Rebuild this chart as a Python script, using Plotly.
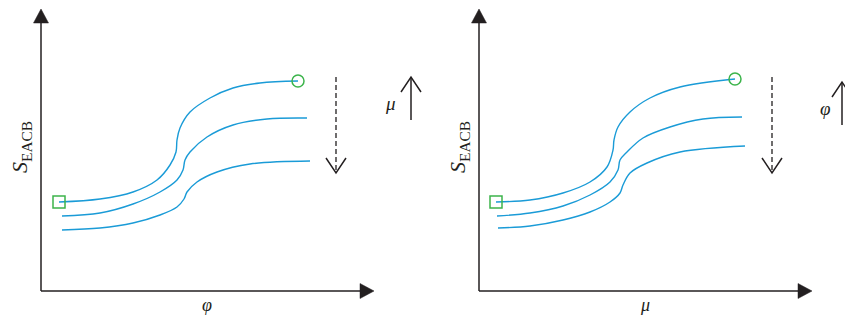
import plotly.graph_objects as go
from plotly.subplots import make_subplots

# schematic curves, units measured from each panel's axis corner
left_top_x = [18, 59, 92, 116, 129, 135, 136, 139, 149, 169, 192, 219, 257]
left_top_y = [89, 92, 99, 111, 126, 139, 151, 163, 179, 193, 203, 208, 210]
left_mid_x = [21, 59, 92, 119, 136, 142, 144, 149, 166, 192, 226, 266]
left_mid_y = [75, 78, 87, 99, 111, 121, 131, 139, 154, 166, 172, 173]
left_bot_x = [21, 59, 92, 119, 136, 143, 146, 156, 176, 209, 269]
left_bot_y = [61, 63, 68, 76, 84, 92, 99, 109, 119, 127, 130]

right_top_x = [17, 51, 84, 111, 128, 134, 135, 139, 151, 171, 201, 256]
right_top_y = [89, 91, 98, 109, 124, 141, 151, 164, 179, 193, 204, 212]
right_mid_x = [18, 51, 84, 111, 131, 139, 141, 148, 164, 191, 224, 263]
right_mid_y = [75, 78, 85, 96, 109, 121, 131, 139, 153, 164, 172, 174]
right_bot_x = [19, 51, 84, 111, 131, 141, 144, 151, 168, 201, 266]
right_bot_y = [63, 65, 71, 79, 89, 98, 106, 118, 128, 139, 145]

x_titles = ["φ", "μ"]
param_labels = ["μ", "φ"]

blue = "#1a9bd7"
green = "#3cb44b"
ink = "#231f20"

fig = make_subplots(rows=1, cols=2, horizontal_spacing=0)

panels = [
    (1, [(left_top_x, left_top_y), (left_mid_x, left_mid_y), (left_bot_x, left_bot_y)]),
    (2, [(right_top_x, right_top_y), (right_mid_x, right_mid_y), (right_bot_x, right_bot_y)]),
]

for col, curves in panels:
    for cx, cy in curves:
        fig.add_trace(go.Scatter(x=cx, y=cy, mode="lines", line=dict(color=blue, width=1.4, shape="spline", smoothing=1.0),
                                 hoverinfo="skip", showlegend=False), row=1, col=col)
    tx, ty = curves[0]
    fig.add_trace(go.Scatter(x=[tx[0]], y=[ty[0]], mode="markers",
                             marker=dict(symbol="square-open", size=12, color=green, line=dict(width=1.5)),
                             showlegend=False), row=1, col=col)
    fig.add_trace(go.Scatter(x=[tx[-1]], y=[ty[-1]], mode="markers",
                             marker=dict(symbol="circle-open", size=12, color=green, line=dict(width=1.5)),
                             showlegend=False), row=1, col=col)

shapes = []
annotations = []
for i, (xr, yr) in enumerate([("x", "y"), ("x2", "y2")]):
    # axes with filled arrow heads
    shapes.append(dict(type="line", xref=xr, yref=yr, x0=0, y0=0, x1=0, y1=270, line=dict(color=ink, width=1.5)))
    shapes.append(dict(type="line", xref=xr, yref=yr, x0=0, y0=0, x1=320, y1=0, line=dict(color=ink, width=1.5)))
    shapes.append(dict(type="path", xref=xr, yref=yr, path="M -7.5 268 L 7.5 268 L 0 282 Z",
                       fillcolor=ink, line=dict(color=ink, width=0.5)))
    shapes.append(dict(type="path", xref=xr, yref=yr, path="M 319 -7.5 L 319 7.5 L 333 0 Z",
                       fillcolor=ink, line=dict(color=ink, width=0.5)))
    # dashed downward arrow
    dx = 295 if i == 0 else 293
    shapes.append(dict(type="line", xref=xr, yref=yr, x0=dx, y0=214, x1=dx, y1=120,
                       line=dict(color=ink, width=1.3, dash="5px,3px")))
    shapes.append(dict(type="path", xref=xr, yref=yr,
                       path=f"M {dx-10} 133 L {dx} 118 L {dx+10} 133",
                       line=dict(color=ink, width=1.5)))
    # parameter increase arrow
    ux = 370 if i == 0 else 363
    top = 214 if i == 0 else 209
    shapes.append(dict(type="line", xref=xr, yref=yr, x0=ux, y0=top - 43, x1=ux, y1=top,
                       line=dict(color=ink, width=1.5)))
    shapes.append(dict(type="path", xref=xr, yref=yr,
                       path=f"M {ux-10} {top-15} L {ux} {top} L {ux+10} {top-15}",
                       line=dict(color=ink, width=1.5)))
    lx = 349 if i == 0 else 346
    annotations.append(dict(xref=xr, yref=yr, x=lx, y=top - 26, text=f"<i>{param_labels[i]}</i>",
                            showarrow=False, font=dict(family="Liberation Serif", size=19, color=ink)))
    # axis titles
    annotations.append(dict(xref=xr, yref=yr, x=166, y=-14, text=f"<i>{x_titles[i]}</i>",
                            showarrow=False, font=dict(family="Liberation Serif", size=18, color=ink)))
    annotations.append(dict(xref=xr, yref=yr, x=-20, y=144, text="<i>S</i><sub>EACB</sub>", textangle=-90,
                            showarrow=False, font=dict(family="Liberation Serif", size=22, color=ink)))

fig.update_xaxes(visible=False, showgrid=False, zeroline=False)
fig.update_yaxes(visible=False, showgrid=False, zeroline=False)
# page body adds an 8px margin, so the figure is sized to fit inside it
fig.update_layout(
    width=837, height=307,
    margin=dict(l=0, r=0, t=0, b=0),
    paper_bgcolor="white", plot_bgcolor="white",
    xaxis=dict(domain=[0, 422 / 837], range=[-33, 389]),
    xaxis2=dict(domain=[422 / 837, 1], range=[-49, 366]),
    yaxis=dict(range=[-24, 283]),
    yaxis2=dict(range=[-24, 283]),
    shapes=shapes,
    annotations=annotations,
)

fig.write_html("out.html")
